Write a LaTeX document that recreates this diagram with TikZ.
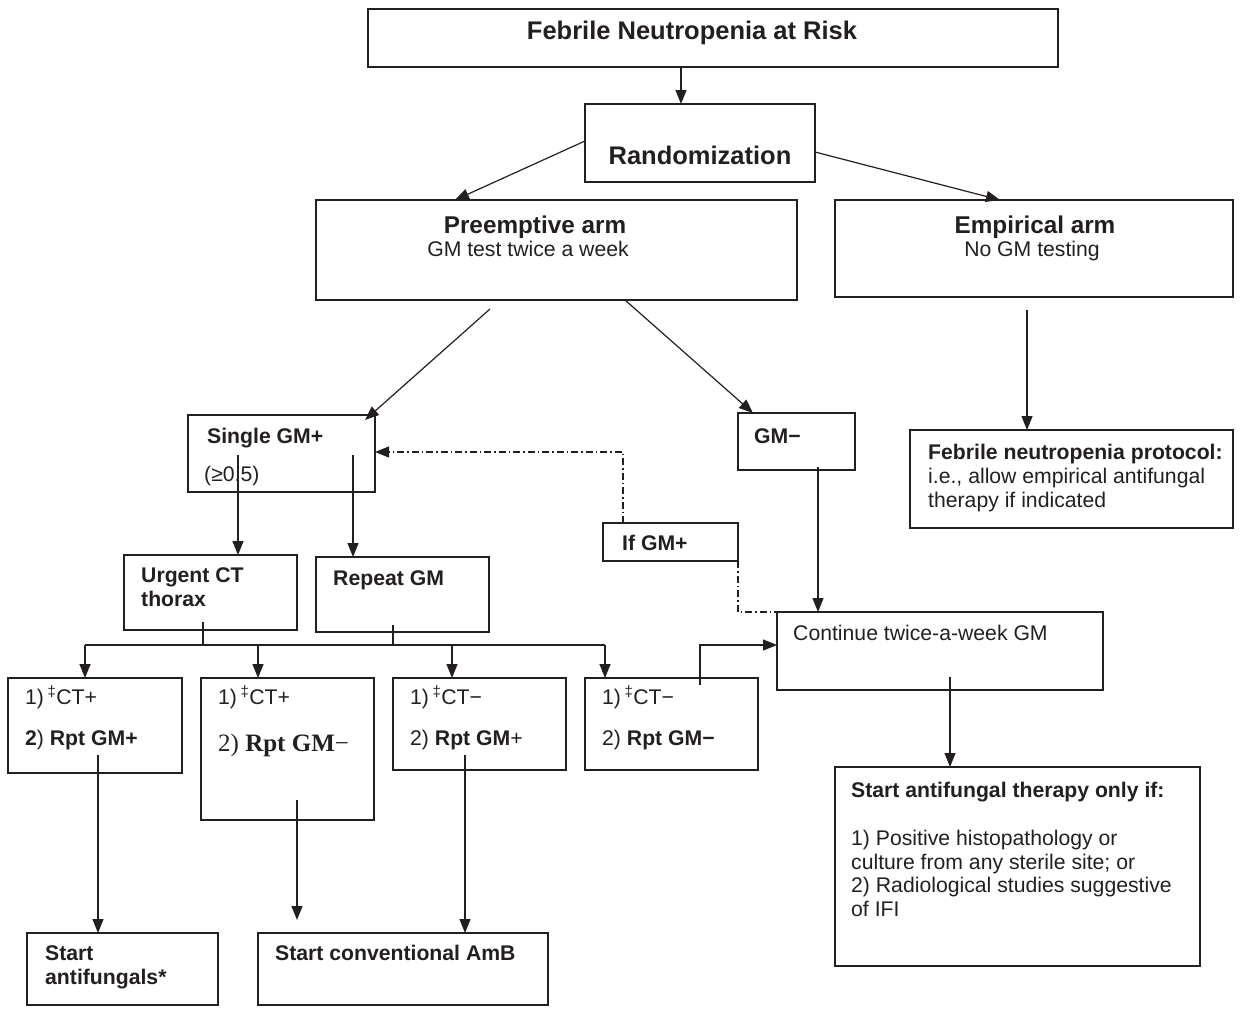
\documentclass[tikz,border=0pt]{standalone}
\usepackage{fontspec}
\setmainfont{Liberation Sans}
\newfontfamily\tnr{Liberation Serif}
\usetikzlibrary{arrows.meta,calc}
\definecolor{ink}{HTML}{231F20}
\newcommand\mybox[5]{\node[box, minimum width={(#4-#2)*1pt}, minimum height={(#5-#3)*1pt}] (#1) at (#2,#3) {};}
\begin{document}
\begin{tikzpicture}[x=1pt,y=-1pt, color=ink,
  box/.style={draw, line width=1.3pt, inner sep=0pt, outer sep=0pt, anchor=north west},
  lbl/.style={inner sep=0pt, anchor=base west, font=\fontsize{21.2}{24}\selectfont},
  big/.style={inner sep=0pt, font=\fontsize{25.5}{30}\selectfont\bfseries},
  arm/.style={inner sep=0pt, anchor=base, font=\fontsize{24.3}{28}\selectfont\bfseries},
  sub/.style={inner sep=0pt, anchor=base, font=\fontsize{21.2}{24}\selectfont},
  ln/.style={line width=1.2pt},
  arr/.style={line width=1.2pt, -{Triangle[length=14pt,width=11pt]}},
  dd/.style={line width=1.2pt, dash pattern=on 7pt off 3pt on 1.5pt off 3pt},
]
\useasboundingbox (0,0) rectangle (1255,1009);
% boxes
\mybox{top}{368}{9}{1058}{67}
\mybox{rand}{585}{104}{815}{182}
\mybox{pre}{316}{200}{797}{300}
\mybox{emp}{835}{200}{1233}{297}
\mybox{sgm}{188}{415}{375}{492}
\mybox{gmm}{738}{413}{855}{470}
\mybox{proto}{910}{430}{1233}{528}
\mybox{ifgm}{603}{523}{738}{561}
\mybox{cont}{777}{612}{1103}{690}
\mybox{startaf}{835}{767}{1200}{966}
\mybox{uct}{124}{555}{297}{630}
\mybox{rep}{316}{557}{489}{632}
\mybox{b1}{8}{678}{182}{773}
\mybox{b2}{201}{678}{374}{820}
\mybox{b3}{393}{678}{566}{770}
\mybox{b4}{585}{678}{758}{770}
\mybox{saf}{27}{933}{218}{1005}
\mybox{amb}{258}{933}{548}{1005}
% texts
\node[big] (ttop) at (692,33) {Febrile Neutropenia at Risk};
\node[big] (trand) at (700,155) {Randomization};
\node[arm] (tpre1) at (535,233) {Preemptive arm};
\node[sub] (tpre2) at (528,256) {GM test twice a week};
\node[arm] (temp1) at (1035,233) {Empirical arm};
\node[sub] (temp2) at (1032,256) {No GM testing};
\node[lbl] (tsgm1) at (207,443) {\bfseries Single GM+};
\node[lbl] (tsgm2) at (204,481) {(≥0.5)};
\node[lbl] (tgmm) at (754,443) {\bfseries GM−};
\node[lbl] (tpr1) at (928,459) {\bfseries Febrile neutropenia protocol:};
\node[lbl] (tpr2) at (928,483) {i.e., allow empirical antifungal};
\node[lbl] (tpr3) at (928,507) {therapy if indicated};
\node[lbl] (tif) at (622,550) {\bfseries If GM+};
\node[lbl] (tuct1) at (141,582) {\bfseries Urgent CT};
\node[lbl] (tuct2) at (141,606) {\bfseries thorax};
\node[lbl] (trep) at (333,585) {\bfseries Repeat GM};
\node[lbl] (tcont) at (793,640) {Continue twice-a-week GM};
\node[lbl] (tsa1) at (851,797) {\bfseries Start antifungal therapy only if:};
\node[lbl] (tsa2) at (851,845) {1) Positive histopathology or};
\node[lbl] (tsa3) at (851,869) {culture from any sterile site; or};
\node[lbl] (tsa4) at (851,892) {2) Radiological studies suggestive};
\node[lbl] (tsa5) at (851,916) {of IFI};
\node[lbl] (tb11) at (25,704) {1)\,\textsuperscript{‡}CT+};
\node[lbl] (tb12) at (25,745) {\bfseries 2\mdseries)\bfseries\ Rpt GM+};
\node[lbl] (tb21) at (218,704) {1)\,\textsuperscript{‡}CT+};
\node[lbl] (tb22) at (218,751) {\fontsize{25}{30}\tnr 2) \bfseries Rpt GM\mdseries−};
\node[lbl] (tb31) at (410,704) {1)\,\textsuperscript{‡}CT−};
\node[lbl] (tb32) at (410,745) {2) \bfseries Rpt GM\mdseries+};
\node[lbl] (tb41) at (602,704) {1)\,\textsuperscript{‡}CT−};
\node[lbl] (tb42) at (602,745) {2) \bfseries Rpt GM−};
\node[lbl] (tsaf1) at (45,960) {\bfseries Start};
\node[lbl] (tsaf2) at (45,984) {\bfseries antifungals*};
\node[lbl] (tamb) at (275,960) {\bfseries Start conventional AmB};
% connectors
\coordinate (a0) at (681,0);
\draw[arr] (a0 |- top.south) -- (a0 |- rand.north);
\coordinate (a1) at (455,0);
\draw[arr] ($(rand.west)+(0,-2)$) -- (a1 |- pre.north);
\coordinate (a2) at (1000,0);
\draw[arr] ($(rand.east)+(0,9)$) -- (a2 |- emp.north);
\coordinate (p1) at (490,309);
\coordinate (p2) at (365,420);
\draw[arr] (p1) -- (p2);
\coordinate (p3) at (625,0);
\coordinate (p4) at (753,0);
\draw[arr] (p3 |- pre.south) -- (p4 |- gmm.north);
\coordinate (e1) at (1027,310);
\draw[arr] (e1) -- (e1 |- proto.north);
\coordinate (s1) at (238,455);
\draw[arr] (s1) -- (s1 |- uct.north);
\coordinate (s2) at (353,455);
\draw[arr] (s2) -- (s2 |- rep.north);
\coordinate (k1) at (623,452);
\draw[dd,arr] (k1 |- ifgm.north) -- (k1) -- (k1 -| sgm.east);
\draw[dd] (ifgm.south east) |- (cont.north west);
\coordinate (g1) at (818,467);
\draw[arr] (g1) -- (g1 |- cont.north);
\coordinate (c1) at (950,677);
\draw[arr] (c1) -- (c1 |- startaf.north);
\coordinate (u1) at (203,622);
\coordinate (u2) at (393,625);
\coordinate (bl) at (85,645);
\coordinate (br) at (605,645);
\coordinate (bm1) at (258,645);
\coordinate (bm2) at (452,645);
\draw[ln] (u1) -- (u1 |- bl);
\draw[ln] (u2) -- (u2 |- bl);
\draw[ln] (bl) -- (br);
\draw[arr] (bl) -- (bl |- b1.north);
\draw[arr] (bm1) -- (bm1 |- b2.north);
\draw[arr] (bm2) -- (bm2 |- b3.north);
\draw[arr] (br) -- (br |- b4.north);
\coordinate (q) at (700,685);
\draw[arr] (q) |- (bl -| cont.west);
\coordinate (d1) at (98,755);
\draw[arr] (d1) -- (d1 |- saf.north);
\coordinate (d2) at (297,800);
\coordinate (d2e) at (297,920);
\draw[arr] (d2) -- (d2e);
\coordinate (d3) at (465,755);
\draw[arr] (d3) -- (d3 |- amb.north);
\end{tikzpicture}
\end{document}
